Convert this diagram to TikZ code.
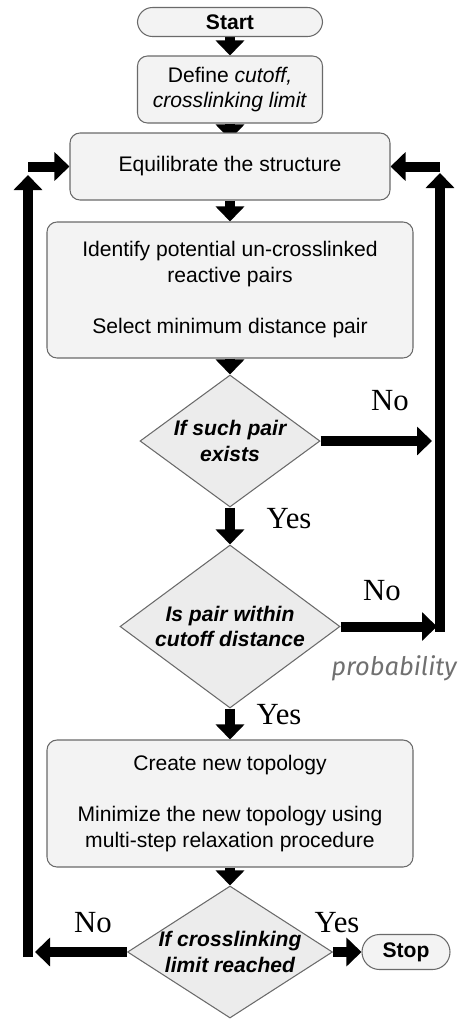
\documentclass[tikz,border=0pt]{standalone}
\usepackage{fontspec}
\setmainfont{Liberation Sans}
\newfontfamily\labelfont{Liberation Serif}
\newfontfamily\notefont{Fira Sans}
\usetikzlibrary{arrows.meta,shapes.geometric,backgrounds}

\definecolor{boxfill}{HTML}{F3F3F3}
\definecolor{decfill}{HTML}{ECECEC}
\definecolor{boxline}{HTML}{6A6A6A}
\definecolor{notegray}{HTML}{707070}

\tikzset{
    box/.style={draw=boxline, line width=0.6pt, fill=boxfill, rounded corners=0.2cm,
        align=center, font=\fontsize{12}{14.6}\selectfont},
    pill/.style={box, rounded corners=0.3cm},
    decision/.style={diamond, draw=boxline, line width=0.6pt, fill=decfill, inner sep=-0.12cm,
        align=center, font=\fontsize{12}{14.6}\selectfont\bfseries\itshape},
    yesno/.style={font=\labelfont\fontsize{17.5}{20}\selectfont},
    flow/.style={line width=0.2cm, -{Triangle[width=0.56cm,length=0.3cm]}}
}

\begin{document}
\begin{tikzpicture}
    \useasboundingbox (0,0) rectangle (9.2,-20.4);

    % ノードの配置
    \node[pill, minimum width=3.7cm, minimum height=0.58cm] (start) at (4.6,-0.44) {\textbf{Start}};
    \node[box, minimum width=3.7cm, minimum height=1.34cm] (define) at (4.6,-1.79)
        {Define \textit{cutoff,}\\\textit{crosslinking limit}};
    \node[box, minimum width=6.4cm, minimum height=1.34cm] (equil) at (4.6,-3.33) {Equilibrate the structure};
    \node[box, minimum width=7.32cm, minimum height=2.72cm] (ident) at (4.6,-5.8)
        {Identify potential un-crosslinked\\reactive pairs\\[14.6pt]Select minimum distance pair};
    \node[decision, shape aspect=1.36, minimum width=3.6cm, minimum height=2.64cm] (exists) at (4.6,-8.82)
        {If such pair\\exists};
    \node[decision, shape aspect=1.35, minimum width=4.4cm, minimum height=3.26cm] (within) at (4.6,-12.53)
        {Is pair within\\cutoff distance};
    \node[box, minimum width=7.32cm, minimum height=2.54cm] (create) at (4.6,-16.07)
        {Create new topology\\[14.6pt]Minimize the new topology using\\multi-step relaxation procedure};
    \node[decision, shape aspect=1.55, minimum width=4.1cm, minimum height=2.64cm] (limit) at (4.6,-19.04)
        {If crosslinking\\limit reached};
    \node[pill, minimum width=1.76cm, minimum height=0.7cm, rounded corners=0.35cm] (stop) at (8.12,-19.04) {\textbf{Stop}};

    % ループの折れ点
    \coordinate (noL) at (0.7,-19.04);
    \coordinate (footL) at (0.56,-19.14);
    \coordinate (upL) at (0.56,-3.5);
    \coordinate (turnL) at (0.56,-3.33);
    \coordinate (noR1) at (8.64,-8.82);
    \coordinate (noR2) at (8.74,-12.53);
    \coordinate (footR) at (8.8,-12.63);
    \coordinate (upR) at (8.8,-3.46);
    \coordinate (turnR) at (8.8,-3.33);

    % 矢印の描画
    \begin{pgfonlayer}{background}
    \draw[flow] (start) -- (define);
    \draw[flow] (define.south) -- ([yshift=-0.14cm]equil.north);
    \draw[flow] (equil) -- (ident);
    \draw[flow] (ident) -- (exists);
    \draw[flow] (exists) -- (within);
    \draw[flow] (within) -- (create);
    \draw[flow] (create) -- (limit);
    \draw[flow] (limit) -- (stop);

    \draw[flow] (limit) -- (noL);
    \draw[flow] (footL) -- (upL);
    \draw[flow] (turnL) -- (equil);

    \draw[flow] (exists) -- (noR1);
    \draw[flow] (within) -- (noR2);
    \draw[flow] (footR) -- (upR);
    \draw[flow] (turnR) -- (equil);
    \end{pgfonlayer}

    % ラベル
    \node[yesno] (no1) at (7.8,-8.02) {No};
    \node[yesno] (yes1) at (5.78,-10.38) {Yes};
    \node[yesno] (no2) at (7.64,-11.82) {No};
    \node[yesno] (yes2) at (5.58,-14.3) {Yes};
    \node[yesno] (no3) at (1.86,-18.46) {No};
    \node[yesno] (yes3) at (6.74,-18.46) {Yes};
    \node[anchor=west, inner sep=0pt, text=notegray, font=\notefont\itshape\fontsize{14.5}{17}\selectfont] (prob)
        at (6.62,-13.36) {probability};

\end{tikzpicture}
\end{document}
